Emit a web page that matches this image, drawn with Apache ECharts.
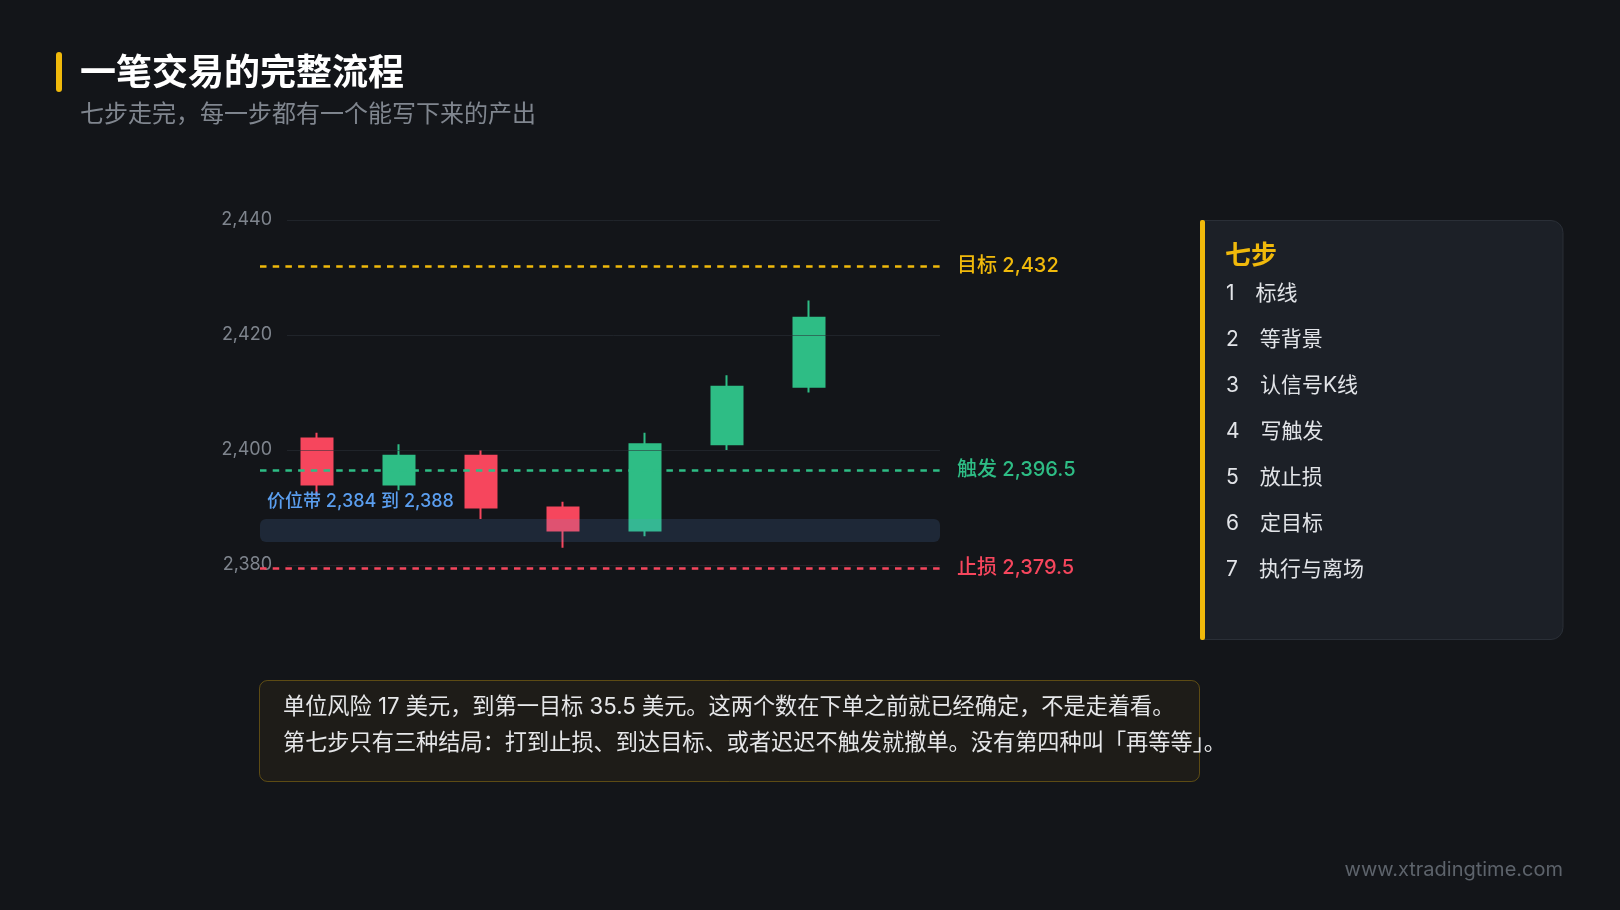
<!DOCTYPE html>
<html>
<head>
<meta charset="utf-8">
<script src="https://cdn.jsdelivr.net/npm/echarts@6/dist/echarts.min.js"></script>
<style>
html,body{margin:0;padding:0;background:#131519;}
#c{width:1620px;height:910px;}
</style>
</head>
<body>
<div id="c"></div>
<script>
// ---- data ----
const categories = ['K1', 'K2', 'K3', 'K4', 'K5', 'K6', 'K7'];
const opens  = [2402, 2394, 2399, 2390, 2386, 2401, 2411];
const closes = [2394, 2399, 2390, 2386, 2401, 2411, 2423];
const lows   = [2392, 2393, 2388, 2383, 2385, 2400, 2410];
const highs  = [2403, 2401, 2400, 2391, 2403, 2413, 2426];
const yTicks = [2380, 2400, 2420, 2440];
const targetPrice = 2432;
const triggerPrice = 2396.5;
const stopPrice = 2379.5;
const bandRange = [2384, 2388];
const steps = ['标线', '等背景', '认信号K线', '写触发', '放止损', '定目标', '执行与离场'];
const noteLines = [
  '单位风险 17 美元，到第一目标 35.5 美元。这两个数在下单之前就已经确定，不是走着看。',
  '第七步只有三种结局：打到止损、到达目标、或者迟迟不触发就撤单。没有第四种叫「再等等」。'
];
const titleText = '一笔交易的完整流程';
const subtitleText = '七步走完，每一步都有一个能写下来的产出';
const panelTitle = '七步';
const watermark = 'www.xtradingtime.com';

// ---- style ----
const FONT = 'Inter, "Noto Sans CJK SC", sans-serif';
const UP = '#2ebd85', DOWN = '#f6465d', GOLD = '#f0b90b', BLUE = '#5b9ff0';
const Y_MIN = 2376, Y_MAX = 2440;
const fmt = v => v.toLocaleString('en-US');

const candleData = categories.map((_, i) => [opens[i], closes[i], lows[i], highs[i]]);

const chart = echarts.init(document.getElementById('c'), null, {renderer: 'canvas'});

const gridTop = 220, gridHeight = 368;

const graphics = [
  {type: 'rect', shape: {x: 56, y: 52, width: 6, height: 40, r: 3}, style: {fill: GOLD}},
  {type: 'text', style: {x: 80, y: 74, text: titleText, fill: '#ffffff', font: 'bold 36px ' + FONT, verticalAlign: 'middle'}},
  {type: 'text', style: {x: 80, y: 115, text: subtitleText, fill: '#80868f', font: '24px ' + FONT, verticalAlign: 'middle'}},
  // panel
  {type: 'rect', shape: {x: 1201, y: 220.5, width: 362, height: 419, r: [0, 12, 12, 0]}, style: {fill: '#1c2027', stroke: '#2a2f37', lineWidth: 1}},
  {type: 'rect', shape: {x: 1200, y: 220, width: 5, height: 420, r: 2}, style: {fill: GOLD}},
  {type: 'text', style: {x: 1225, y: 256, text: panelTitle, fill: GOLD, font: 'bold 26px ' + FONT, verticalAlign: 'middle'}},
  // note box
  {type: 'rect', shape: {x: 259.5, y: 680.5, width: 940, height: 101, r: 8}, style: {fill: 'rgba(240,185,11,0.05)', stroke: 'rgba(240,185,11,0.32)', lineWidth: 1}},
  {type: 'text', style: {x: 1563, y: 870, text: watermark, fill: '#5d636b', font: '20px ' + FONT, align: 'right', verticalAlign: 'middle'}}
];
steps.forEach((s, i) => {
  graphics.push({type: 'text', style: {x: 1226, y: 294 + 46 * i, text: String(i + 1) + '\u2003' + s, fill: '#e2e4e8', font: '21px ' + FONT, verticalAlign: 'middle'}});
});
noteLines.forEach((t, i) => {
  graphics.push({type: 'text', style: {x: 283, y: 707.5 + 36 * i, text: t, fill: '#e6e7e9', font: '22.2px ' + FONT, verticalAlign: 'middle'}});
});

const levelLines = [
  {value: targetPrice, name: '目标', color: GOLD},
  {value: triggerPrice, name: '触发', color: UP},
  {value: stopPrice, name: '止损', color: DOWN}
];

const option = {
  backgroundColor: '#131519',
  animation: false,
  textStyle: {fontFamily: FONT},
  grid: [
    {left: 276, width: 656, top: gridTop, height: gridHeight},
    {left: 287, width: 653, top: gridTop, height: gridHeight},
    {left: 260, width: 680, top: gridTop, height: gridHeight}
  ],
  xAxis: [
    {type: 'category', gridIndex: 0, data: categories, max: categories.length, boundaryGap: true, show: false},
    {type: 'value', gridIndex: 1, min: 0, max: 1, show: false},
    {type: 'value', gridIndex: 2, min: 0, max: 1, show: false}
  ],
  yAxis: [
    {type: 'value', gridIndex: 0, min: Y_MIN, max: Y_MAX, show: false, splitLine: {show: false}},
    {
      type: 'value', gridIndex: 1, min: Y_MIN, max: Y_MAX, z: 3,
      axisLine: {show: false},
      axisTick: {show: false, customValues: yTicks},
      axisLabel: {customValues: yTicks, color: '#7e848d', fontSize: 18, fontFamily: FONT, margin: 15, padding: [8, 0, 0, 0], formatter: v => fmt(v)},
      splitLine: {show: true, lineStyle: {color: 'rgba(43,49,57,0.55)', width: 1}}
    },
    {type: 'value', gridIndex: 2, min: Y_MIN, max: Y_MAX, show: false, splitLine: {show: false}}
  ],
  graphic: graphics,
  series: [
    {
      type: 'candlestick', xAxisIndex: 0, yAxisIndex: 0, data: candleData, barWidth: 32,
      itemStyle: {color: UP, color0: DOWN, borderColor: UP, borderColor0: DOWN, borderWidth: 2}
    },
    {type: 'line', xAxisIndex: 1, yAxisIndex: 1, data: []},
    {
      type: 'custom', xAxisIndex: 2, yAxisIndex: 2, z: 5, silent: true,
      data: [[0, bandRange[0], bandRange[1]]],
      renderItem: (params, api) => {
        const cs = params.coordSys;
        const yLow = api.coord([0, api.value(1)])[1];
        const yHigh = api.coord([0, api.value(2)])[1];
        return {
          type: 'group',
          children: [
            {type: 'rect', shape: {x: cs.x, y: yHigh, width: cs.width, height: yLow - yHigh, r: 6}, style: {fill: 'rgba(92,154,225,0.15)'}},
            {type: 'text', style: {x: cs.x + 7, y: yHigh - 8, text: '价位带 ' + fmt(bandRange[0]) + ' 到 ' + fmt(bandRange[1]), fill: BLUE, font: '500 18px ' + FONT, align: 'left', verticalAlign: 'bottom'}}
          ]
        };
      }
    },
    {
      type: 'line', xAxisIndex: 2, yAxisIndex: 2, z: 6, data: [],
      markLine: {
        silent: true, symbol: ['none', 'none'], animation: false,
        data: levelLines.map(l => ({
          yAxis: l.value,
          lineStyle: {color: l.color, width: 2.5, type: [6.5, 6.2]},
          label: {show: true, position: 'end', distance: 17, padding: [5, 0, 0, 0], formatter: l.name + ' ' + fmt(l.value), color: l.color, fontSize: 20, fontWeight: 500, fontFamily: FONT}
        }))
      }
    }
  ]
};
chart.setOption(option);
</script>
</body>
</html>
